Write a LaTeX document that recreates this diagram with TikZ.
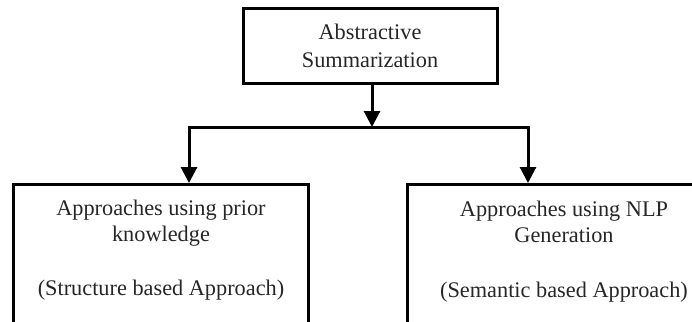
\documentclass[tikz,border=0pt]{standalone}
\usepackage{fontspec}
\setmainfont{Liberation Serif}
\usetikzlibrary{arrows.meta}
\begin{document}
\begin{tikzpicture}[x=1pt,y=-1pt,
  box/.style={draw=black, line width=3pt, rectangle, inner sep=0pt},
  label/.style={anchor=base, inner sep=0pt, font=\fontsize{22.3}{26}\selectfont, text=black!85},
  link/.style={draw=black, line width=3pt},
  arr/.style={link, -{Triangle[length=16pt,width=16pt]}}]
  \useasboundingbox (0,0) rectangle (692,321);
  \clip (0,0) rectangle (692,321);

  % root box
  \node[box, minimum width=254pt, minimum height=74pt] (root) at (370,46) {};
  \node[label] (rootA) at (370,40) {Abstractive};
  \node[label] (rootB) at (370,67) {Summarization};

  % the two approach boxes (run past the page edge)
  \node[box, anchor=north, minimum width=295pt, minimum height=170pt] (leftbox) at (160.5,183) {};
  \node[box, anchor=north, minimum width=314pt, minimum height=170pt] (rightbox) at (564,183) {};

  \node[label] (lA) at (161,215) {Approaches using prior};
  \node[label] (lB) at (161,241) {knowledge};
  \node[label] (lC) at (161,295) {(Structure based Approach)};

  \node[label] (rA) at (564,216) {Approaches using NLP};
  \node[label] (rB) at (564,242) {Generation};
  \node[label] (rC) at (564,297) {(Semantic based Approach)};

  % connectors
  \coordinate (barM) at (372,127);
  \coordinate (barL) at (189,127);
  \coordinate (barR) at (528,127);
  \draw[arr] (root.south -| barM) -- (barM);
  \draw[arr] (barM) -| (leftbox.north -| barL);
  \draw[arr] (barM) -| (rightbox.north -| barR);
\end{tikzpicture}
\end{document}
